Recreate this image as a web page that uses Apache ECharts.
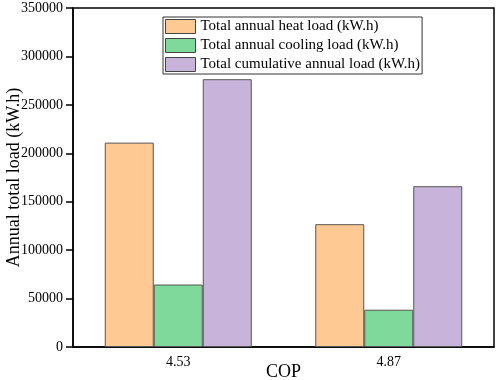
<!DOCTYPE html>
<html>
<head>
<meta charset="utf-8">
<script src="https://cdn.jsdelivr.net/npm/echarts@6/dist/echarts.min.js"></script>
<style>
  html, body { margin: 0; padding: 0; background: #fff; }
  #chart { width: 498px; height: 380px; }
</style>
</head>
<body>
<div id="chart"></div>
<script>
// data
const categories = ['4.53', '4.87'];
const seriesNames = [
  'Total annual heat load (kW.h)',
  'Total annual cooling load (kW.h)',
  'Total cumulative annual load (kW.h)'
];
const heatLoad = [211000, 126800];
const coolingLoad = [64500, 38500];
const cumulativeLoad = [276500, 166000];
const colors = ['#FFC994', '#7FD99A', '#C8B4DA'];

const serif = '"Liberation Serif", "DejaVu Serif", serif';

var chart = echarts.init(document.getElementById('chart'));

const values = [heatLoad, coolingLoad, cumulativeLoad];
const series = seriesNames.map((name, i) => ({
  name: name,
  type: 'bar',
  barWidth: 49,
  barGap: '0%',
  itemStyle: {
    color: colors[i],
    borderColor: '#555',
    borderWidth: 1
  },
  data: values[i]
}));

var option = {
  animation: false,
  grid: {
    left: 73,
    right: 4,
    top: 8,
    bottom: 33,
    containLabel: false,
    outerBoundsMode: 'none',
    show: true,
    borderColor: '#000',
    borderWidth: 1.5
  },
  legend: {
    orient: 'vertical',
    left: 163,
    top: 17,
    itemWidth: 30,
    itemHeight: 14,
    itemGap: 4,
    padding: [2, 2, 2, 2],
    borderColor: '#333',
    borderWidth: 1,
    icon: 'rect',
    itemStyle: { borderColor: '#444', borderWidth: 1 },
    textStyle: { fontFamily: serif, fontSize: 15, color: '#000' },
    data: seriesNames
  },
  xAxis: {
    type: 'category',
    data: categories,
    name: 'COP',
    nameLocation: 'middle',
    nameGap: 16,
    nameMoveOverlap: false,
    nameTextStyle: { fontFamily: serif, fontSize: 18, color: '#000' },
    axisLine: { lineStyle: { color: '#000', width: 1.5 } },
    axisTick: { inside: true, alignWithLabel: true, length: 6, lineStyle: { color: '#000', width: 1.5 } },
    axisLabel: { fontFamily: serif, fontSize: 14, color: '#000', margin: 8 }
  },
  yAxis: {
    type: 'value',
    min: 0,
    max: 350000,
    interval: 50000,
    name: 'Annual total load (kW.h)',
    nameLocation: 'middle',
    nameGap: 50,
    nameMoveOverlap: false,
    nameTextStyle: { fontFamily: serif, fontSize: 18, color: '#000' },
    splitLine: { show: false },
    axisLine: { show: true, lineStyle: { color: '#000', width: 1.5 } },
    axisTick: { show: true, length: 7, lineStyle: { color: '#000', width: 1.5 } },
    axisLabel: {
      fontFamily: serif, fontSize: 14, color: '#000', margin: 10,
      formatter: (v) => String(v)
    }
  },
  series: series
};

option && chart.setOption(option);
</script>
</body>
</html>
